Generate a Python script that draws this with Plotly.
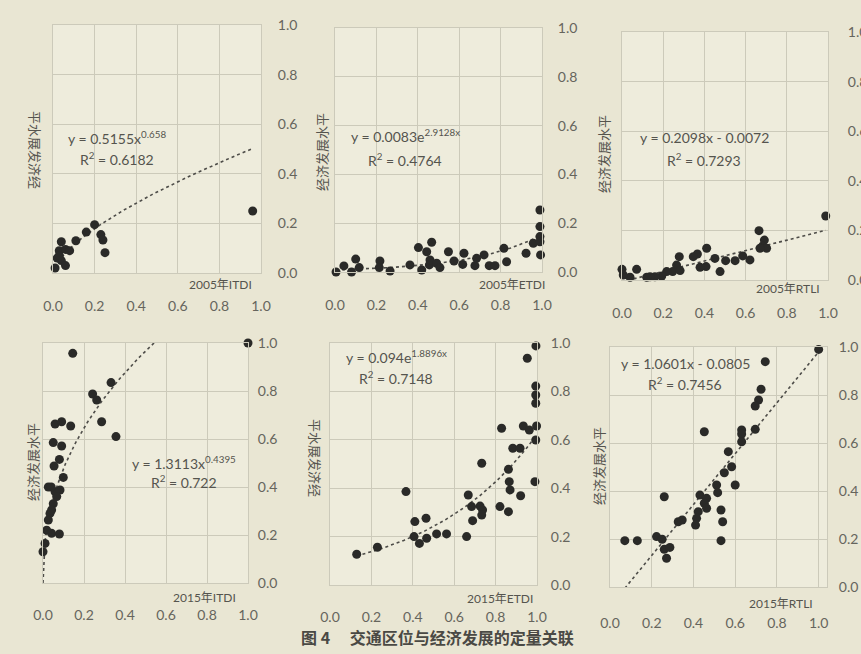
import numpy as np
import plotly.graph_objects as go

# ---------------- data ----------------
tick_vals = [0.0, 0.2, 0.4, 0.6, 0.8, 1.0]
tick_text = ["0.0", "0.2", "0.4", "0.6", "0.8", "1.0"]
y_title = "经济发展水平"
caption = "图 4　 交通区位与经济发展的定量关联"

# 2005 ITDI
p1_x = [0.96, 0.20, 0.16, 0.11, 0.23, 0.24, 0.25, 0.04, 0.03, 0.06, 0.08, 0.02, 0.04, 0.06, 0.01, 0.03]
p1_y = [0.25, 0.195, 0.165, 0.13, 0.155, 0.133, 0.082, 0.126, 0.09, 0.095, 0.09, 0.06, 0.05, 0.03, 0.02, 0.07]
p1_fit = ("power", 0.5155, 0.658)
p1_eq = ["y = 0.5155x<sup>0.658</sup>", "R<sup>2</sup> = 0.6182"]
p1_xtitle = "2005年ITDI"

# 2005 ETDI
p2_x = [0.005, 0.043, 0.08, 0.10, 0.117, 0.217, 0.214, 0.266, 0.362, 0.419, 0.456, 0.459, 0.403, 0.443, 0.467,
        0.491, 0.507, 0.548, 0.575, 0.617, 0.623, 0.676, 0.684, 0.72, 0.745, 0.773, 0.816, 0.829, 0.923, 0.958,
        0.99, 0.99, 0.99, 0.99, 0.993]
p2_y = [0.0, 0.025, 0.0, 0.053, 0.018, 0.045, 0.018, 0.004, 0.029, 0.008, 0.029, 0.049, 0.10, 0.083, 0.122,
        0.036, 0.018, 0.083, 0.045, 0.031, 0.077, 0.026, 0.056, 0.07, 0.026, 0.026, 0.097, 0.042, 0.077, 0.118,
        0.254, 0.186, 0.145, 0.124, 0.07]
p2_fit = ("exp", 0.0083, 2.9128)
p2_eq = ["y = 0.0083e<sup>2.9128x</sup>", "R<sup>2</sup> = 0.4764"]
p2_xtitle = "2005年ETDI"

# 2005 RTLI
p3_x = [0.989, 0.665, 0.691, 0.683, 0.702, 0.67, 0.621, 0.586, 0.549, 0.503, 0.476, 0.451, 0.411, 0.408, 0.379,
        0.366, 0.346, 0.278, 0.265, 0.246, 0.282, 0.217, 0.193, 0.16, 0.136, 0.12, 0.071, 0.039, 0.006, 0.0]
p3_y = [0.258, 0.199, 0.161, 0.137, 0.128, 0.128, 0.081, 0.097, 0.078, 0.078, 0.034, 0.087, 0.128, 0.054, 0.051,
        0.105, 0.094, 0.094, 0.06, 0.034, 0.038, 0.034, 0.016, 0.013, 0.013, 0.011, 0.043, 0.011, 0.02, 0.043]
p3_fit = ("linear", 0.2098, -0.0072)
p3_eq = ["y = 0.2098x - 0.0072", "R<sup>2</sup> = 0.7293"]
p3_xtitle = "2005年RTLI"

# 2015 ITDI
p4_x = [1.0, 0.145, 0.332, 0.242, 0.262, 0.286, 0.356, 0.059, 0.091, 0.135, 0.05, 0.091, 0.08, 0.054, 0.099,
        0.026, 0.059, 0.083, 0.067, 0.05, 0.034, 0.026, 0.018, 0.042, 0.08, 0.01, 0.0, 0.042, 0.04]
p4_y = [1.0, 0.957, 0.835, 0.7875, 0.7625, 0.672, 0.61, 0.6625, 0.672, 0.654, 0.585, 0.571, 0.515, 0.4875, 0.44,
        0.40, 0.38, 0.3875, 0.36, 0.33, 0.29, 0.2625, 0.22, 0.207, 0.204, 0.165, 0.13, 0.304, 0.40]
p4_fit = ("power", 1.3113, 0.4395)
p4_eq = ["y = 1.3113x<sup>0.4395</sup>", "R<sup>2</sup> = 0.722"]
p4_xtitle = "2015年ITDI"

# 2015 ETDI
p5_x = [0.995, 0.953, 0.994, 0.994, 0.994, 0.829, 0.934, 0.963, 0.998, 0.994, 0.883, 0.918, 0.862, 0.866, 0.87,
        0.921, 0.99, 0.821, 0.862, 0.733, 0.668, 0.684, 0.725, 0.737, 0.733, 0.689, 0.66, 0.563, 0.515, 0.464,
        0.41, 0.467, 0.432, 0.406, 0.367, 0.229, 0.129]
p5_y = [0.988, 0.937, 0.822, 0.785, 0.751, 0.6475, 0.657, 0.64, 0.657, 0.599, 0.565, 0.565, 0.478, 0.427, 0.393,
        0.369, 0.427, 0.324, 0.303, 0.503, 0.372, 0.324, 0.326, 0.31, 0.289, 0.266, 0.2, 0.211, 0.211, 0.276,
        0.262, 0.193, 0.172, 0.2, 0.386, 0.156, 0.127]
p5_fit = ("exp", 0.094, 1.8896)
p5_eq = ["y = 0.094e<sup>1.8896x</sup>", "R<sup>2</sup> = 0.7148"]
p5_xtitle = "2015年ETDI"

# 2015 RTLI
p6_x = [1.0, 0.744, 0.724, 0.712, 0.696, 0.696, 0.631, 0.631, 0.631, 0.452, 0.567, 0.583, 0.548, 0.6, 0.511,
        0.516, 0.431, 0.26, 0.463, 0.452, 0.463, 0.423, 0.415, 0.41, 0.532, 0.54, 0.532, 0.327, 0.346, 0.071,
        0.131, 0.223, 0.25, 0.26, 0.287, 0.271]
p6_y = [0.99, 0.939, 0.824, 0.779, 0.754, 0.657, 0.654, 0.6375, 0.605, 0.647, 0.564, 0.501, 0.476, 0.425, 0.425,
        0.393, 0.383, 0.376, 0.3695, 0.349, 0.328, 0.314, 0.286, 0.258, 0.321, 0.272, 0.193, 0.272, 0.279, 0.193,
        0.193, 0.21, 0.199, 0.157, 0.165, 0.12]
p6_fit = ("linear", 1.0601, -0.0805)
p6_eq = ["y = 1.0601x - 0.0805", "R<sup>2</sup> = 0.7456"]
p6_xtitle = "2015年RTLI"

# ---------------- layout geometry (pixels) ----------------
W, H = 861, 654
def fx(p):
    return p / W
def fy(p):
    return 1 - p / H

panels = [
    dict(x=p1_x, y=p1_y, fit=p1_fit, eq=p1_eq, xt=p1_xtitle, fr=(53, 261, 25, 273), xr=[0, 1],
         eqp=(117, 137, 158), xtp=(254, 285), ytp=(35, 150), ang=90, ysd=13, xsd=20),
    dict(x=p2_x, y=p2_y, fit=p2_fit, eq=p2_eq, xt=p2_xtitle, fr=(335, 542, 28, 272), xr=[0, 1],
         eqp=(405, 135, 159), xtp=(547, 285), ytp=(322, 152), ang=-90, ysd=12, xsd=20),
    dict(x=p3_x, y=p3_y, fit=p3_fit, eq=p3_eq, xt=p3_xtitle, fr=(622, 828, 32, 280), xr=[0, 1],
         eqp=(704, 137, 159), xtp=(822, 288), ytp=(603, 154), ang=-90, ysd=16, xsd=20),
    dict(x=p4_x, y=p4_y, fit=p4_fit, eq=p4_eq, xt=p4_xtitle, fr=(43, 248, 343, 583), xr=[0, 1],
         eqp=(184, 462, 481), xtp=(238, 597), ytp=(32, 462), ang=-90, ysd=6, xsd=19),
    dict(x=p5_x, y=p5_y, fit=p5_fit, eq=p5_eq, xt=p5_xtitle, fr=(330, 537, 343, 585), xr=[0, 1],
         eqp=(396, 357, 377), xtp=(535, 598), ytp=(315, 458), ang=90, ysd=10, xsd=19),
    dict(x=p6_x, y=p6_y, fit=p6_fit, eq=p6_eq, xt=p6_xtitle, fr=(610, 827, 347, 587), xr=[0, 1.04],
         eqp=(685, 363, 383), xtp=(815, 603), ytp=(598, 466), ang=-90, ysd=8, xsd=23),
]

BG = "#E9E6D3"
PLOT_BG = "#EEECDC"
GRID = "#CCCABA"
DOT = "#2A2A28"
LINE = "#4D4C48"
TXT = "#66655D"
FONT = "Lato, 'Noto Sans CJK SC', sans-serif"
CJK = "'Noto Sans CJK SC', Lato, sans-serif"

fig = go.Figure()
layout = dict(
    width=W, height=H, autosize=False,
    margin=dict(l=0, r=0, t=0, b=0, autoexpand=False),
    paper_bgcolor=BG, plot_bgcolor=PLOT_BG,
    showlegend=False,
    font=dict(family=FONT, size=14, color=TXT),
)
annotations = []

for i, p in enumerate(panels, 1):
    xs = "" if i == 1 else str(i)
    xref, yref = "x" + xs, "y" + xs
    l, r, t, b = p["fr"]
    layout["xaxis" + xs] = dict(
        domain=[fx(l), fx(r)], anchor=yref, range=p["xr"], automargin=False,
        tickvals=tick_vals, ticktext=tick_text, ticks="",
        showgrid=True, gridcolor=GRID, gridwidth=1, zeroline=False,
        showline=True, linecolor=GRID, linewidth=1, mirror=True,
        tickfont=dict(size=14, color=TXT, family=FONT),
        ticklabelstandoff=p["xsd"], fixedrange=True,
    )
    layout["yaxis" + xs] = dict(
        domain=[fy(b), fy(t)], anchor=xref, range=[0, 1], side="right", automargin=False,
        tickvals=tick_vals, ticktext=tick_text, ticks="",
        showgrid=True, gridcolor=GRID, gridwidth=1, zeroline=False,
        showline=True, linecolor=GRID, linewidth=1, mirror=True,
        tickfont=dict(size=14, color=TXT, family=FONT),
        ticklabelstandoff=p["ysd"], fixedrange=True,
    )

    # trendline from the equation shown on the chart
    kind, a, c = p["fit"]
    xx = np.linspace(min(p["x"]), max(p["x"]), 200)
    if kind == "power":
        yy = a * np.power(xx, c)
    elif kind == "exp":
        yy = a * np.exp(c * xx)
    else:
        yy = a * xx + c
    fig.add_trace(go.Scatter(x=xx, y=yy, mode="lines", xaxis=xref, yaxis=yref,
                             line=dict(color=LINE, width=1.6, dash="dot"),
                             hoverinfo="skip", cliponaxis=True))
    fig.add_trace(go.Scatter(x=p["x"], y=p["y"], mode="markers", xaxis=xref, yaxis=yref,
                             marker=dict(color=DOT, size=9, line=dict(width=0)),
                             cliponaxis=False))

    ex, ey1, ey2 = p["eqp"]
    annotations.append(dict(x=fx(ex), y=fy(ey1), xref="paper", yref="paper", text=p["eq"][0],
                            showarrow=False, xanchor="center", yanchor="middle",
                            font=dict(size=14, color="#55544E", family=FONT)))
    annotations.append(dict(x=fx(ex), y=fy(ey2), xref="paper", yref="paper", text=p["eq"][1],
                            showarrow=False, xanchor="center", yanchor="middle",
                            font=dict(size=14, color="#55544E", family=FONT)))
    txr, tyy = p["xtp"]
    annotations.append(dict(x=fx(txr), y=fy(tyy), xref="paper", yref="paper", text=p["xt"],
                            showarrow=False, xanchor="right", yanchor="middle",
                            font=dict(size=12, color="#55544E", family=FONT)))
    yx, yy_ = p["ytp"]
    ytxt = y_title if p["ang"] == -90 else y_title[::-1]
    annotations.append(dict(x=fx(yx), y=fy(yy_), xref="paper", yref="paper", text=ytxt,
                            showarrow=False, textangle=p["ang"], xanchor="center", yanchor="middle",
                            font=dict(size=13, color="#55544E", family=CJK)))

annotations.append(dict(x=fx(437), y=fy(637), xref="paper", yref="paper", text="<b>" + caption + "</b>",
                        showarrow=False, xanchor="center", yanchor="middle",
                        font=dict(size=16, color="#4A4944", family=CJK)))

layout["annotations"] = annotations
fig.update_layout(**layout)
fig.write_html(
    "out.html",
    config={"displayModeBar": False},
    post_script="document.body.style.margin='0';document.body.style.overflow='hidden';"
                "document.body.style.background='#E9E6D3';",
)
